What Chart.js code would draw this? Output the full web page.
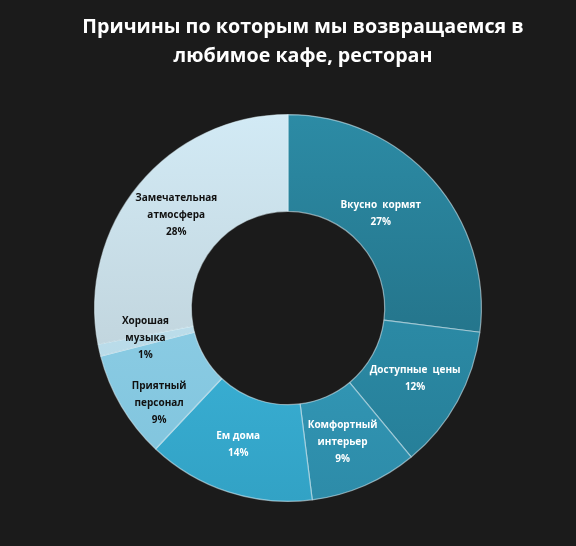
<!DOCTYPE html>
<html>
<head>
<meta charset="utf-8">
<script src="https://cdn.jsdelivr.net/npm/chart.js@4/dist/chart.umd.min.js"></script>
<style>
  html, body { margin: 0; padding: 0; background: #1b1b1b; }
  #wrap { width: 576px; height: 546px; }
</style>
</head>
<body>
<div id="wrap"><canvas id="reasonsChart" width="576" height="546"></canvas></div>
<script>
// Chart data
const chartTitle = ["Причины по которым мы возвращаемся в", "любимое кафе, ресторан"];
const reasonLabels = [
  ["Вкусно  кормят"],
  ["Доступные  цены"],
  ["Комфортный", "интерьер"],
  ["Ем дома"],
  ["Приятный", "персонал"],
  ["Хорошая", "музыка"],
  ["Замечательная", "атмосфера"]
];
const reasonShares = [27, 12, 9, 14, 9, 1, 28];

// Segment styling (top colour -> bottom colour), label colour, label nudge
const segColors = [
  ["#2c8ba5", "#1f6579"],
  ["#3299b7", "#257c95"],
  ["#3aaacb", "#2d8ba8"],
  ["#43c2ea", "#32a2c5"],
  ["#97d5ec", "#7fc3dc"],
  ["#c4e4f1", "#b3d6e4"],
  ["#d2eaf5", "#b7c8cf"]
];
const labelColors = ["#ffffff", "#ffffff", "#ffffff", "#ffffff", "#111111", "#111111", "#111111"];
const labelNudge = [[-16, 2], [0, 1], [-3, 1], [-5, -1], [-4, 21], [-1, -1], [0, 0]];

function segGradient(context) {
  const chart = context.chart;
  const area = chart.chartArea;
  if (!area) return segColors[context.dataIndex][0];
  const g = chart.ctx.createLinearGradient(0, area.top, 0, area.bottom);
  g.addColorStop(0, segColors[context.dataIndex][0]);
  g.addColorStop(1, segColors[context.dataIndex][1]);
  return g;
}

// Dark background and the (slightly off-centre) title
const bgPlugin = {
  id: "bg",
  beforeDraw(chart) {
    const ctx = chart.ctx;
    ctx.save();
    ctx.fillStyle = "#1b1b1b";
    ctx.fillRect(0, 0, chart.width, chart.height);
    ctx.font = "bold 19.7px 'Open Sans', sans-serif";
    ctx.fillStyle = "#ffffff";
    ctx.textAlign = "center";
    ctx.textBaseline = "middle";
    chartTitle.forEach((t, k) => ctx.fillText(t, 303, 27 + k * 29));
    ctx.restore();
  }
};

// Labels drawn inside each slice
const sliceLabels = {
  id: "sliceLabels",
  afterDatasetsDraw(chart) {
    const ctx = chart.ctx;
    const meta = chart.getDatasetMeta(0);
    ctx.save();
    ctx.font = "bold 10px 'Open Sans', sans-serif";
    ctx.textAlign = "center";
    ctx.textBaseline = "middle";
    meta.data.forEach((arc, i) => {
      const p = arc.getCenterPoint();
      const lines = reasonLabels[i].concat([reasonShares[i] + "%"]);
      const lh = 17;
      const cx = p.x + labelNudge[i][0];
      const y0 = p.y + labelNudge[i][1] - (lines.length - 1) * lh / 2;
      ctx.fillStyle = labelColors[i];
      lines.forEach((t, k) => ctx.fillText(t, cx, y0 + k * lh));
    });
    ctx.restore();
  }
};

new Chart(document.getElementById("reasonsChart").getContext("2d"), {
  type: "doughnut",
  data: {
    labels: reasonLabels.map(l => l.join(" ")),
    datasets: [{
      data: reasonShares,
      backgroundColor: segGradient,
      borderColor: "rgba(220,240,248,0.55)",
      borderWidth: 1.2
    }]
  },
  options: {
    responsive: false,
    animation: false,
    cutout: "50%",
    layout: { padding: { top: 114, bottom: 44, left: 0, right: 0 } },
    plugins: {
      legend: { display: false },
      tooltip: { enabled: false },
      title: { display: false }
    }
  },
  plugins: [bgPlugin, sliceLabels]
});
</script>
</body>
</html>
